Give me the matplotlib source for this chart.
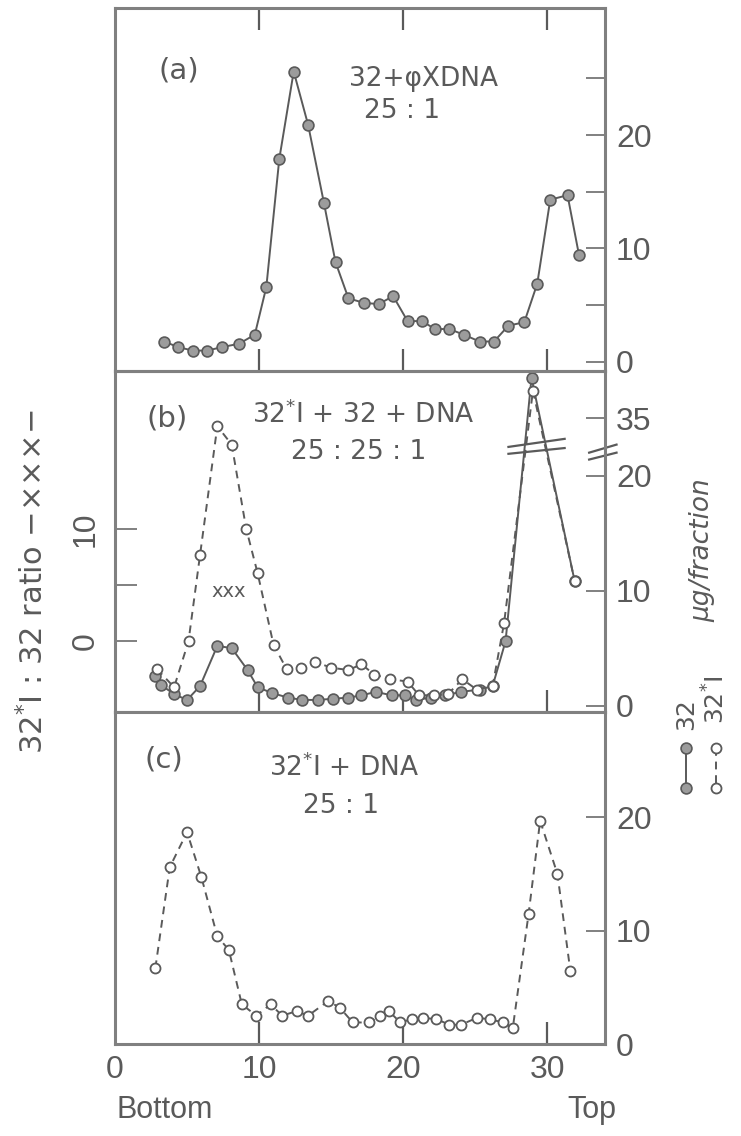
import matplotlib.pyplot as plt

# fraction number and ug/fraction
a_x = [3.4, 4.4, 5.4, 6.4, 7.4, 8.6, 9.7, 10.5, 11.4, 12.4, 13.4, 14.5, 15.3, 16.2, 17.3,
       18.3, 19.3, 20.3, 21.3, 22.2, 23.2, 24.2, 25.3, 26.3, 27.3, 28.4, 29.3, 30.2, 31.4, 32.2]
a_32 = [1.8, 1.3, 1.0, 1.0, 1.3, 1.6, 2.4, 6.6, 17.9, 25.6, 20.9, 14.0, 8.8, 5.6, 5.2,
        5.1, 5.8, 3.6, 3.6, 2.9, 2.9, 2.4, 1.8, 1.8, 3.2, 3.5, 6.9, 14.3, 14.7, 9.4]

b_x32 = [2.8, 3.2, 4.1, 5.0, 5.9, 7.1, 8.1, 9.2, 9.9, 10.9, 12.0, 13.0, 14.1, 15.1, 16.2,
         17.1, 18.1, 19.2, 20.1, 20.9, 21.9, 22.9, 24.0, 25.3, 26.2, 27.1, 28.9, 31.9]
b_32 = [2.6, 1.8, 1.0, 0.5, 1.7, 5.2, 5.0, 3.1, 1.6, 1.1, 0.7, 0.5, 0.5, 0.6, 0.7,
        0.9, 1.2, 0.9, 0.9, 0.5, 0.7, 0.9, 1.2, 1.4, 1.7, 5.6, 38.5, 10.8]
b_xI = [2.9, 4.1, 5.1, 5.9, 7.1, 8.1, 9.1, 9.9, 11.0, 11.9, 12.9, 13.9, 15.0, 16.2, 17.1,
        18.0, 19.1, 20.3, 21.1, 22.1, 23.1, 24.1, 25.1, 26.2, 27.0, 29.0, 31.9]
b_32I = [3.2, 1.6, 5.6, 13.1, 24.3, 22.7, 15.4, 11.5, 5.3, 3.2, 3.3, 3.8, 3.3, 3.1, 3.6,
         2.7, 2.3, 2.1, 0.9, 0.9, 1.0, 2.3, 1.4, 1.7, 7.2, 37.4, 10.8]

c_x = [2.8, 3.8, 5.0, 6.0, 7.1, 7.9, 8.8, 9.8, 10.8, 11.6, 12.6, 13.4, 14.8, 15.6, 16.5,
       17.6, 18.4, 19.0, 19.8, 20.6, 21.4, 22.3, 23.2, 24.0, 25.1, 26.0, 26.9, 27.6,
       28.7, 29.5, 30.7, 31.6]
c_32I = [6.7, 15.6, 18.7, 14.7, 9.5, 8.3, 3.5, 2.5, 3.5, 2.5, 2.9, 2.5, 3.8, 3.2, 1.9,
         1.9, 2.5, 2.9, 1.9, 2.2, 2.3, 2.2, 1.7, 1.7, 2.3, 2.2, 1.9, 1.4,
         11.5, 19.7, 15.0, 6.4]

# panel (b) right axis is broken: 35 is drawn where 25 would be
SHIFT = 10


def brk(vals):
    return [v - SHIFT if v > 30 else v for v in vals]


ink = '#5a5a5a'
frame = '#808080'
num_font = ['Liberation Sans Narrow', 'Liberation Sans', 'DejaVu Sans']
plt.rcParams['font.family'] = ['DejaVu Sans']
NUM = 23

fig = plt.figure(figsize=(7.41, 11.36), dpi=100)
W, H = 741, 1136


def box(top, bot):
    return [115 / W, 1 - bot / H, 490 / W, (bot - top) / H]


# left ratio axis of (b) lives in its own transparent axes
ax_l = fig.add_axes(box(371, 712), frameon=False)
ax_a = fig.add_axes(box(8, 371))
ax_b = fig.add_axes(box(371, 712))
ax_c = fig.add_axes(box(712, 1044))
ax_b.patch.set_visible(False)

for ax in (ax_a, ax_b, ax_c):
    ax.set_xlim(0, 34)
    for s in ax.spines.values():
        s.set_color(frame)
        s.set_linewidth(2.2)
    ax.yaxis.tick_right()
    ax.tick_params(axis='y', direction='in', length=14, width=1.4, color=frame,
                   labelsize=NUM, labelcolor=ink, pad=8, left=False, right=True)
    ax.set_xticks([10, 20, 30])
    ax.tick_params(axis='x', direction='in', length=16, width=1.6, color=ink,
                   labelbottom=False, top=False)

filled = dict(color=ink, lw=1.4, marker='o', ms=7.8, mfc='#9c9c9c', mec=ink, mew=1.2)
opened = dict(color=ink, lw=1.4, ls=(0, (4, 3)), marker='o', ms=7.2, mfc='white', mec=ink, mew=1.3)
note = dict(fontsize=19, color=ink, ha='center', va='center')
tag = dict(fontsize=21, color=ink, ha='center', va='center')

# (a)
ax_a.plot(a_x, a_32, **filled)
ax_a.set_ylim(-0.8, 31.2)
ax_a.set_yticks([0, 5, 10, 15, 20, 25])
ax_a.set_yticklabels(['0', '', '10', '', '20', ''])
ax_a.tick_params(axis='x', top=True)
ax_a.text(4.4, 25.7, '(a)', **tag)
ax_a.text(21.4, 24.9, '32+φXDNA', **note)
ax_a.text(19.9, 22.1, '25 : 1', **note)

# (b)
ax_b.plot(b_x32, brk(b_32), **filled)
ax_b.plot(b_xI, brk(b_32I), **opened)
ax_b.set_ylim(-0.55, 29.1)
ax_b.set_yticks([0, 10, 20, 25])
ax_b.set_yticklabels(['0', '10', '20', '35'])
ax_b.text(3.65, 25.0, '(b)', **tag)
ax_b.text(17.2, 25.3, '32$^{*}$I + 32 + DNA', **note)
ax_b.text(16.9, 22.1, '25 : 25 : 1', **note)
ax_b.text(7.9, 9.9, 'xxx', fontsize=14, color=ink, ha='center', va='center')
# break marks on the peak and on the right axis
for y0, y1 in ((22.5, 23.2), (21.9, 22.4)):
    ax_b.plot([27.3, 31.2], [y0, y1], color=ink, lw=1.6)
for y0, y1 in ((22.0, 22.7), (21.4, 22.0)):
    ax_b.plot([32.9, 34.8], [y0, y1], color=ink, lw=1.6, clip_on=False)

ax_l.set_xlim(0, 34)
ax_l.set_xticks([])
ax_l.set_ylim(-6.4, 24.2)
ax_l.set_yticks([0, 5, 10])
ax_l.set_yticklabels(['0', '', '10'], rotation=90, va='center')
ax_l.tick_params(axis='y', direction='in', length=16, width=1.4, color=frame,
                 labelsize=NUM, labelcolor=ink, pad=10)

# (c)
ax_c.plot(c_x, c_32I, **opened)
ax_c.set_ylim(0, 29.3)
ax_c.set_yticks([0, 10, 20])
ax_c.set_xticks([0, 10, 20, 30])
ax_c.tick_params(axis='x', labelbottom=True, labelsize=NUM, labelcolor=ink, pad=8)
ax_c.xaxis.get_major_ticks()[0].tick1line.set_visible(False)
ax_c.text(3.4, 25.1, '(c)', **tag)
ax_c.text(15.9, 24.4, '32$^{*}$I + DNA', **note)
ax_c.text(15.7, 21.0, '25 : 1', **note)

for ax in (ax_a, ax_b, ax_c, ax_l):
    for lab in ax.get_xticklabels() + ax.get_yticklabels():
        lab.set_family(num_font)

fig.text(165 / W, 1 - 1110 / H, 'Bottom', fontsize=22, color=ink, family=num_font,
         ha='center', va='center')
fig.text(592 / W, 1 - 1110 / H, 'Top', fontsize=22, color=ink, family=num_font,
         ha='center', va='center')

fig.text(33 / W, 1 - 582 / H, '32$^{*}$I : 32 ratio −×××−', fontsize=22, color=ink,
         rotation=90, ha='center', va='center')
fig.text(702 / W, 1 - 550 / H, 'μg/fraction', fontsize=19, color=ink, style='italic',
         rotation=90, ha='center', va='center')

# legend, drawn by hand as in the original
fig.add_artist(plt.Line2D([686 / W, 686 / W], [1 - 748 / H, 1 - 788 / H], **filled))
fig.add_artist(plt.Line2D([716 / W, 716 / W], [1 - 748 / H, 1 - 788 / H], **opened))
fig.text(686 / W, 1 - 714 / H, '32', fontsize=18, color=ink, rotation=90,
         ha='center', va='center')
fig.text(716 / W, 1 - 700 / H, '32$^{*}$I', fontsize=18, color=ink, rotation=90,
         ha='center', va='center')

fig.savefig('out.png', dpi=100)
